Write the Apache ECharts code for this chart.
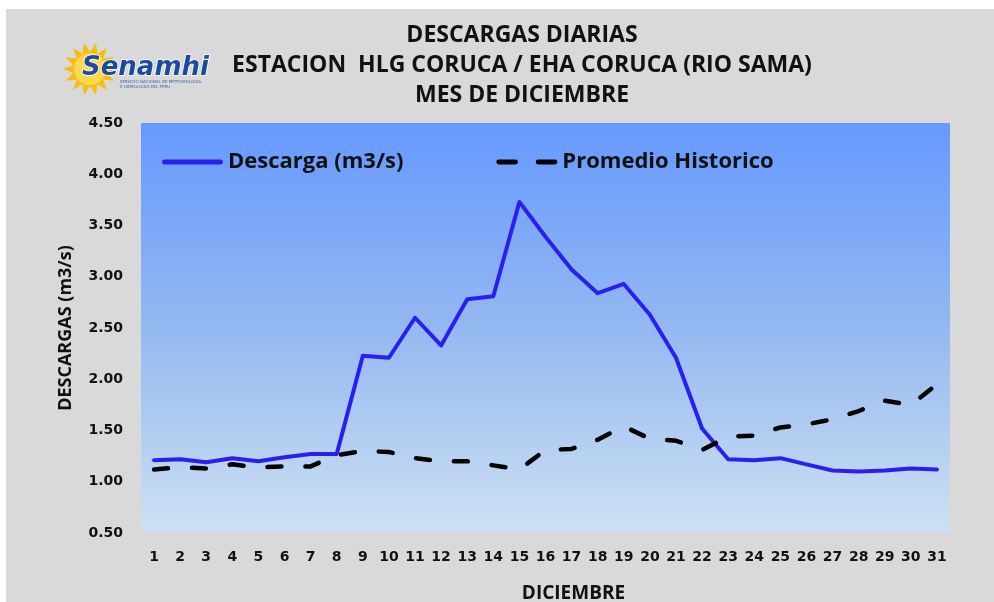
<!DOCTYPE html>
<html>
<head>
<meta charset="utf-8">
<script src="https://cdn.jsdelivr.net/npm/echarts@6/dist/echarts.min.js"></script>
<style>
  body { margin: 0; background: #ffffff; }
  #grafico { position: absolute; left: 6px; top: 9px; width: 988px; height: 593px; }
</style>
</head>
<body>
<div id="grafico"></div>
<script>
// datos del grafico
var dias = ['1','2','3','4','5','6','7','8','9','10','11','12','13','14','15','16',
            '17','18','19','20','21','22','23','24','25','26','27','28','29','30','31'];
var descarga = [1.21, 1.22, 1.19, 1.23, 1.20, 1.24, 1.27, 1.27, 2.23, 2.21, 2.60, 2.33, 2.78, 2.81, 3.73, 3.39,
                3.07, 2.84, 2.93, 2.63, 2.21, 1.52, 1.22, 1.21, 1.23, 1.17, 1.11, 1.10, 1.11, 1.13, 1.12];
var promedio = [1.12, 1.14, 1.13, 1.17, 1.14, 1.15, 1.15, 1.26, 1.30, 1.29, 1.23, 1.20, 1.20, 1.16, 1.12, 1.31,
                1.32, 1.41, 1.54, 1.42, 1.40, 1.31, 1.44, 1.45, 1.53, 1.56, 1.61, 1.69, 1.79, 1.75, 1.95];
var tituloLineas = ['DESCARGAS DIARIAS', 'ESTACION  HLG CORUCA / EHA CORUCA (RIO SAMA)', 'MES DE DICIEMBRE'];

var myChart = echarts.init(document.getElementById('grafico'));

// sol del logo (puntas)
var solPuntos = [];
for (var i = 0; i < 28; i++) {
    var r = (i % 2 === 0) ? 27 : 17;
    var a = Math.PI * 2 * i / 28;
    solPuntos.push([84 + r * Math.cos(a), 60 + r * Math.sin(a)]);
}

var option = {
    backgroundColor: '#d9d9d9',
    animation: false,
    title: {
        text: tituloLineas.join('\n'),
        left: 511,
        top: 6,
        textAlign: 'center',
        textStyle: {
            fontFamily: 'Open Sans',
            fontWeight: 'bold',
            fontSize: 23,
            lineHeight: 30,
            color: '#111'
        }
    },
    legend: {
        left: 151,
        top: 137,
        itemWidth: 61,
        itemHeight: 5,
        itemGap: 93,
        textStyle: {
            fontFamily: 'Open Sans',
            fontWeight: 'bold',
            fontSize: 22,
            color: '#111'
        },
        data: [
            { name: 'Descarga (m3/s)', icon: 'path://M2,0h57a2,2 0 0 1 0,5h-57a2,2 0 0 1 0,-5z' },
            { name: 'Promedio Historico', icon: 'path://M2,0h17a2,2 0 0 1 0,5h-17a2,2 0 0 1 0,-5z M42,0h17a2,2 0 0 1 0,5h-17a2,2 0 0 1 0,-5z' }
        ]
    },
    grid: {
        left: 135,
        top: 114,
        right: 44,
        bottom: 69,
        outerBoundsMode: 'none',
        show: true,
        borderWidth: 0,
        backgroundColor: new echarts.graphic.LinearGradient(0, 0, 0, 1, [
            { offset: 0, color: '#6699ff' },
            { offset: 0.5, color: '#94b8f0' },
            { offset: 1, color: '#cee1f3' }
        ])
    },
    xAxis: {
        type: 'category',
        data: dias,
        boundaryGap: true,
        name: 'DICIEMBRE',
        nameLocation: 'middle',
        nameGap: 51,
        nameTextStyle: {
            fontFamily: 'Open Sans',
            fontWeight: 'bold',
            fontSize: 19,
            color: '#111',
            padding: [0, 0, 0, 56]
        },
        axisLine: { show: false },
        axisTick: { show: false },
        axisLabel: {
            margin: 17,
            interval: 0,
            fontFamily: 'DejaVu Sans',
            fontWeight: 'bold',
            fontSize: 14,
            color: '#111'
        }
    },
    yAxis: {
        type: 'value',
        min: 0.5,
        max: 4.5,
        interval: 0.5,
        name: 'DESCARGAS (m3/s)',
        nameLocation: 'middle',
        nameGap: 66,
        nameTextStyle: {
            fontFamily: 'Open Sans',
            fontWeight: 'bold',
            fontSize: 18,
            color: '#111'
        },
        axisLine: { show: false },
        axisTick: { show: false },
        splitLine: { show: false },
        axisLabel: {
            margin: 18,
            fontFamily: 'DejaVu Sans',
            fontWeight: 'bold',
            fontSize: 14,
            color: '#111',
            formatter: function (v) { return v.toFixed(2); }
        }
    },
    series: [
        {
            name: 'Descarga (m3/s)',
            type: 'line',
            data: descarga,
            symbol: 'none',
            lineStyle: { color: '#2b1ff0', width: 4, cap: 'round', join: 'round' },
            itemStyle: { color: '#2b1ff0' }
        },
        {
            name: 'Promedio Historico',
            type: 'line',
            data: promedio,
            symbol: 'none',
            lineStyle: { color: '#000', width: 4.5, type: [14, 24], cap: 'round', join: 'round' },
            itemStyle: { color: '#000' }
        }
    ],
    graphic: [
        {
            type: 'polygon',
            shape: { points: solPuntos },
            style: { fill: '#f7bd10' }
        },
        {
            type: 'circle',
            shape: { cx: 84, cy: 60, r: 16 },
            style: { fill: '#fbd84e' }
        },
        {
            type: 'text',
            x: 76,
            y: 59,
            style: {
                text: 'Senamhi',
                fontFamily: 'DejaVu Sans',
                fontWeight: 'bold',
                fontStyle: 'italic',
                fontSize: 26,
                fill: '#1b4c9b',
                stroke: '#ffffff',
                lineWidth: 1.5,
                verticalAlign: 'middle'
            }
        },
        {
            type: 'text',
            x: 114,
            y: 70,
            style: {
                text: 'SERVICIO NACIONAL DE METEOROLOGIA\nE HIDROLOGIA DEL PERU',
                fontFamily: 'DejaVu Sans',
                fontSize: 4,
                lineHeight: 5,
                fill: '#3a62b0'
            }
        }
    ]
};

myChart.setOption(option);
window.onresize = myChart.resize;
</script>
</body>
</html>
